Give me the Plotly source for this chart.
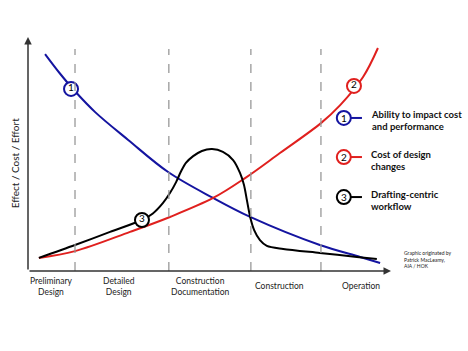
import plotly.graph_objects as go

# ---- data (x: project time 0-100, y: effect/cost/effort 0-100) ----
blue_x = [4.7, 8.8, 12.95, 18.5, 27.6, 38.6, 51.0, 61.2, 80.4, 91.5, 97.0]
blue_y = [92.7, 84.4, 76.8, 67.9, 56.0, 42.3, 31.2, 23.1, 11.1, 6.0, 3.4]

red_x = [3.0, 12.95, 28.1, 39.1, 51.0, 59.8, 69.4, 80.7, 86.0, 92.3, 96.4]
red_y = [5.6, 8.5, 16.7, 23.1, 31.2, 39.7, 50.4, 63.2, 70.9, 82.9, 95.3]

black_x = [3.0, 12.95, 22.6, 31.4, 34.4, 37.2, 39.1, 40.8, 42.2, 43.5, 45.5, 47.9, 50.7,
           53.7, 56.5, 58.4, 59.5, 60.3, 61.2, 62.3, 63.9, 65.8, 70.3, 80.4, 90.6, 96.1]
black_y = [5.6, 11.1, 16.7, 21.8, 24.6, 29.1, 33.3, 38.0, 42.7, 46.2, 49.1, 51.3, 52.1,
           50.9, 47.4, 41.9, 36.8, 30.3, 23.1, 17.5, 13.2, 10.7, 9.4, 7.7, 6.0, 5.1]

marker_labels = ["1", "2", "3"]
marker_x = [11.85, 89.8, 31.4]
marker_y = [77.8, 79.1, 21.8]

phase_bounds = [12.95, 38.8, 61.4, 80.7]
phase_centers = [6.6, 25.1, 47.4, 69.4, 91.7]
phase_names = ["Preliminary<br>Design", "Detailed<br>Design",
               "Construction<br>Documentation", "Construction", "Operation"]

legend_names = ["Ability to impact cost<br>and performance",
                "Cost of design<br>changes",
                "Drafting-centric<br>workflow"]
legend_y = [0.654, 0.487, 0.316]

BLUE = "#1414a0"
RED = "#e0201e"
BLACK = "#000000"
colors = [BLUE, RED, BLACK]
FONT = "Lato"

fig = go.Figure()
fig.add_trace(go.Scatter(x=blue_x, y=blue_y, mode="lines",
                         line=dict(color=BLUE, width=2, shape="spline", smoothing=1)))
fig.add_trace(go.Scatter(x=red_x, y=red_y, mode="lines",
                         line=dict(color=RED, width=2, shape="spline", smoothing=1)))
fig.add_trace(go.Scatter(x=black_x, y=black_y, mode="lines",
                         line=dict(color=BLACK, width=2, shape="spline", smoothing=0.8)))
fig.add_trace(go.Scatter(x=marker_x, y=marker_y, mode="markers+text",
                         text=marker_labels, textposition="middle center",
                         textfont=dict(family=FONT, size=10, color="black"),
                         marker=dict(size=14, color="white",
                                     line=dict(color=colors, width=2))))

shapes = []
for b in phase_bounds:
    shapes.append(dict(type="line", xref="x", yref="y", x0=b, x1=b, y0=0, y1=94.9,
                       line=dict(color="#999999", width=1.3, dash="dash")))
annotations = []
# axes arrows
annotations.append(dict(xref="paper", yref="paper", x=0, y=1, ax=0, ay=234,
                        showarrow=True, arrowhead=2, arrowsize=1, arrowwidth=1.5,
                        arrowcolor="#333333", text=""))
annotations.append(dict(xref="paper", yref="paper", x=1, y=0, ax=-363, ay=0,
                        showarrow=True, arrowhead=2, arrowsize=1, arrowwidth=1.5,
                        arrowcolor="#333333", text=""))
for cx, name in zip(phase_centers, phase_names):
    annotations.append(dict(xref="x", yref="paper", x=cx, y=0, yshift=-15,
                            yanchor="middle", xanchor="center", showarrow=False,
                            text=name, font=dict(family=FONT, size=8.5, color="#222222")))
# legend
for lbl, name, ly, c in zip(marker_labels, legend_names, legend_y, colors):
    shapes.append(dict(type="line", xref="paper", yref="paper", x0=0.885, x1=0.92,
                       y0=ly, y1=ly, line=dict(color=c, width=2)))
    shapes.append(dict(type="circle", xref="paper", yref="paper",
                       xsizemode="pixel", ysizemode="pixel", xanchor=0.870, yanchor=ly,
                       x0=-7, x1=7, y0=-7, y1=7, fillcolor="white",
                       line=dict(color=c, width=2)))
    annotations.append(dict(xref="paper", yref="paper", x=0.870, y=ly, showarrow=False,
                            xanchor="center", yanchor="middle",
                            text=lbl, font=dict(family=FONT, size=10, color="black")))
    annotations.append(dict(xref="paper", yref="paper", x=0.939, y=ly, yshift=-3,
                            xanchor="left", yanchor="middle", align="left",
                            showarrow=False, text="<b>" + name + "</b>",
                            font=dict(family=FONT, size=9.5, color="#111111")))
annotations.append(dict(xref="paper", yref="paper", x=1.030, y=0.051, xanchor="left",
                        yanchor="middle", align="left", showarrow=False,
                        text="Graphic originated by<br>Patrick MacLeamy,<br>AIA / HOK",
                        font=dict(family=FONT, size=5, color="#222222")))
annotations.append(dict(xref="paper", yref="paper", x=0, xshift=-13, y=0.46,
                        xanchor="center", yanchor="middle",
                        textangle=-90, showarrow=False, text="Effect / Cost / Effort",
                        font=dict(family=FONT, size=10, color="#222222")))

fig.update_layout(
    width=468, height=351, margin=dict(l=28, r=77, t=37, b=80),
    paper_bgcolor="white", plot_bgcolor="white", showlegend=False,
    xaxis=dict(range=[0, 100], visible=False),
    yaxis=dict(range=[0, 100], visible=False),
    shapes=shapes, annotations=annotations,
)
fig.write_html("out.html")
